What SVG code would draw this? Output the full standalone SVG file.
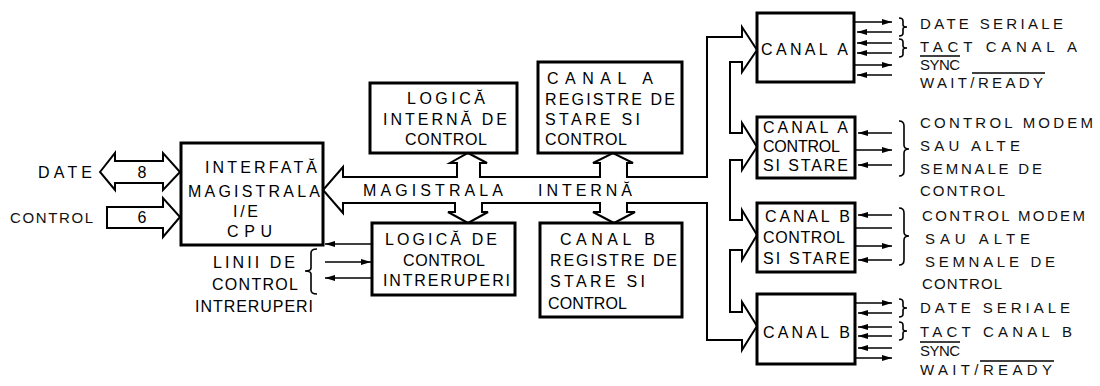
<svg xmlns="http://www.w3.org/2000/svg" width="1100" height="386" viewBox="0 0 1100 386">
<style>
.box{fill:#fff;stroke:#000;stroke-width:3}
.t{font-family:"Liberation Sans",Arial,sans-serif;font-size:16px;fill:#000}
.s{font-size:15px;fill:#111}
.ln{stroke:#000;stroke-width:1.3;fill:none}
.bus{fill:#fff;stroke:#000;stroke-width:2;stroke-linejoin:miter}
.br{stroke:#000;stroke-width:1.6;fill:none}
</style>
<defs>
<marker id="ah" viewBox="0 0 10 6" refX="10" refY="3" markerWidth="10" markerHeight="6" markerUnits="userSpaceOnUse" orient="auto"><path d="M0,0 L10,3 L0,6 z" fill="#000"/></marker>
</defs>
<rect width="1100" height="386" fill="#fff"/>
<g id="connectors">
<path class="bus" d="M100,172 L115,153 L115,161 L163,161 L163,153 L180,172 L163,190 L163,183 L115,183 L115,190 Z"/>
<path class="bus" d="M107,207 L163,207 L163,198 L180,217 L163,237 L163,228 L107,228 Z"/>
<path class="bus" d="M343,213 L323,190 L343,167 L343,177 L457,177 L457,163 L450,163 L468,153 L487,163 L480,163 L480,177 L600,177 L600,163 L593,163 L613,153 L633,163 L627,163 L627,177 L707,177 L707,37 L742,37 L742,27 L757,50 L742,72 L742,62 L730,62 L730,133 L742,133 L742,123 L757,147 L742,170 L742,160 L730,160 L730,220 L742,220 L742,210 L757,235 L742,260 L742,250 L730,250 L730,312 L742,312 L742,302 L757,326 L742,350 L742,340 L707,340 L707,203 L627,203 L627,212 L635,212 L614,223 L593,212 L600,212 L600,203 L482,203 L482,212 L488,212 L468,223 L448,212 L455,212 L455,203 L343,203 Z"/>
<line class="ln" x1="372" y1="244" x2="325" y2="244" marker-end="url(#ah)"/>
<line class="ln" x1="325" y1="262" x2="371" y2="262" marker-end="url(#ah)"/>
<line class="ln" x1="372" y1="278" x2="325" y2="278" marker-end="url(#ah)"/>
<line class="ln" x1="855" y1="22" x2="892" y2="22" marker-end="url(#ah)"/>
<line class="ln" x1="892" y1="32" x2="857" y2="32" marker-end="url(#ah)"/>
<line class="ln" x1="892" y1="43" x2="857" y2="43" marker-end="url(#ah)"/>
<line class="ln" x1="892" y1="53" x2="857" y2="53" marker-end="url(#ah)"/>
<line class="ln" x1="855" y1="65" x2="892" y2="65" marker-end="url(#ah)"/>
<line class="ln" x1="892" y1="75" x2="857" y2="75" marker-end="url(#ah)"/>
<line class="ln" x1="892" y1="133" x2="858" y2="133" marker-end="url(#ah)"/>
<line class="ln" x1="856" y1="150" x2="892" y2="150" marker-end="url(#ah)"/>
<line class="ln" x1="892" y1="165" x2="858" y2="165" marker-end="url(#ah)"/>
<line class="ln" x1="892" y1="215" x2="858" y2="215" marker-end="url(#ah)"/>
<line class="ln" x1="856" y1="228" x2="892" y2="228"/>
<line class="ln" x1="856" y1="246" x2="892" y2="246" marker-end="url(#ah)"/>
<line class="ln" x1="892" y1="260" x2="858" y2="260" marker-end="url(#ah)"/>
<line class="ln" x1="856" y1="303" x2="892" y2="303" marker-end="url(#ah)"/>
<line class="ln" x1="892" y1="313" x2="858" y2="313" marker-end="url(#ah)"/>
<line class="ln" x1="892" y1="327" x2="858" y2="327" marker-end="url(#ah)"/>
<line class="ln" x1="892" y1="336" x2="858" y2="336" marker-end="url(#ah)"/>
<line class="ln" x1="892" y1="348" x2="858" y2="348" marker-end="url(#ah)"/>
<line class="ln" x1="856" y1="358" x2="892" y2="358" marker-end="url(#ah)"/>
</g>
<g id="ext-date"><text class="t" x="38" y="178" textLength="54" lengthAdjust="spacing">DATE</text><text class="t" x="142" y="178" text-anchor="middle">8</text></g>
<g id="ext-control"><text class="t s" x="10" y="223" textLength="83" lengthAdjust="spacing">CONTROL</text><text class="t" x="142" y="223" text-anchor="middle">6</text></g>
<g id="cpu">
<rect class="box" x="181" y="143" width="142" height="102"/>
<text class="t" x="205" y="173" textLength="112" lengthAdjust="spacing">INTERFATĂ</text>
<text class="t" x="188" y="197" textLength="132" lengthAdjust="spacing">MAGISTRALA</text>
<text class="t" x="233" y="217" textLength="25" lengthAdjust="spacing">I/E</text>
<text class="t" x="227" y="237" textLength="45" lengthAdjust="spacing">CPU</text>
</g>
<g id="bus-label">
<text class="t" x="363" y="196" textLength="140" lengthAdjust="spacing">MAGISTRALA</text>
<text class="t" x="538" y="196" textLength="94" lengthAdjust="spacing">INTERNĂ</text>
</g>
<g id="linii">
<text class="t" x="213" y="268" textLength="82" lengthAdjust="spacing">LINII DE</text>
<text class="t" x="212" y="290" textLength="86" lengthAdjust="spacing">CONTROL</text>
<text class="t" x="195" y="312" textLength="118" lengthAdjust="spacing">INTRERUPERI</text>
<path class="br" d="M317,249 Q311,249 311,253 L311,268 Q311,271 305,271 Q311,271 311,274 L311,290 Q311,294 317,294"/>
</g>
<g id="logica-interna">
<rect class="box" x="370" y="83" width="147" height="70"/>
<text class="t" x="407" y="104" textLength="78" lengthAdjust="spacing">LOGICĂ</text>
<text class="t" x="383" y="125" textLength="124" lengthAdjust="spacing">INTERNĂ DE</text>
<text class="t" x="405" y="145" textLength="82" lengthAdjust="spacing">CONTROL</text>
</g>
<g id="canal-a-registre">
<rect class="box" x="538" y="62" width="144" height="91"/>
<text class="t" x="547" y="84" textLength="106" lengthAdjust="spacing">CANAL A</text>
<text class="t" x="545" y="105" textLength="130" lengthAdjust="spacing">REGISTRE DE</text>
<text class="t" x="545" y="125" textLength="95" lengthAdjust="spacing">STARE SI</text>
<text class="t" x="545" y="145" textLength="82" lengthAdjust="spacing">CONTROL</text>
</g>
<g id="logica-intreruperi">
<rect class="box" x="372" y="223" width="143" height="72"/>
<text class="t" x="385" y="245" textLength="112" lengthAdjust="spacing">LOGICĂ DE</text>
<text class="t" x="403" y="266" textLength="82" lengthAdjust="spacing">CONTROL</text>
<text class="t" x="383" y="286" textLength="127" lengthAdjust="spacing">INTRERUPERI</text>
</g>
<g id="canal-b-registre">
<rect class="box" x="540" y="223" width="142" height="94"/>
<text class="t" x="560" y="245" textLength="95" lengthAdjust="spacing">CANAL B</text>
<text class="t" x="550" y="266" textLength="127" lengthAdjust="spacing">REGISTRE DE</text>
<text class="t" x="550" y="287" textLength="95" lengthAdjust="spacing">STARE SI</text>
<text class="t" x="548" y="309" textLength="79" lengthAdjust="spacing">CONTROL</text>
</g>
<g id="canal-a">
<rect class="box" x="757" y="13" width="97" height="69"/>
<text class="t" x="761" y="55" textLength="87" lengthAdjust="spacing">CANAL A</text>
</g>
<g id="canal-a-control">
<rect class="box" x="757" y="117" width="98" height="61"/>
<text class="t" x="763" y="133" textLength="85" lengthAdjust="spacing">CANAL A</text>
<text class="t" x="763" y="152" textLength="77" lengthAdjust="spacing">CONTROL</text>
<text class="t" x="763" y="171" textLength="85" lengthAdjust="spacing">SI STARE</text>
</g>
<g id="canal-b-control">
<rect class="box" x="757" y="203" width="98" height="69"/>
<text class="t" x="765" y="222" textLength="85" lengthAdjust="spacing">CANAL B</text>
<text class="t" x="763" y="243" textLength="82" lengthAdjust="spacing">CONTROL</text>
<text class="t" x="763" y="264" textLength="87" lengthAdjust="spacing">SI STARE</text>
</g>
<g id="canal-b">
<rect class="box" x="757" y="294" width="98" height="70"/>
<text class="t" x="763" y="338" textLength="87" lengthAdjust="spacing">CANAL B</text>
</g>
<g id="labels-canal-a">
<path class="br" d="M899,18 Q903,18 903,21 L903,25 Q903,27 907,27 Q903,27 903,29 L903,33 Q903,36 899,36"/>
<path class="br" d="M899,39 Q903,39 903,42 L903,46 Q903,48 907,48 Q903,48 903,50 L903,54 Q903,57 899,57"/>
<text class="t s" x="920" y="29" textLength="143" lengthAdjust="spacing">DATE SERIALE</text>
<text class="t s" x="920" y="52" textLength="157" lengthAdjust="spacing">TACT CANAL A</text>
<text class="t s" x="920" y="70" textLength="40" lengthAdjust="spacing">SYNC</text>
<line class="ln" x1="920" y1="56" x2="960" y2="56"/>
<text class="t s" x="920" y="88" textLength="123" lengthAdjust="spacing">WAIT/READY</text>
<line class="ln" x1="972" y1="73" x2="1045" y2="73"/>
</g>
<g id="labels-canal-a-control">
<path class="br" d="M899,121 Q904,121 904,126 L904,145 Q904,149 909,149 Q904,149 904,153 L904,171 Q904,176 899,176"/>
<text class="t s" x="920" y="128" textLength="173" lengthAdjust="spacing">CONTROL MODEM</text>
<text class="t s" x="920" y="151" textLength="100" lengthAdjust="spacing">SAU ALTE</text>
<text class="t s" x="920" y="174" textLength="122" lengthAdjust="spacing">SEMNALE DE</text>
<text class="t s" x="920" y="196" textLength="85" lengthAdjust="spacing">CONTROL</text>
</g>
<g id="labels-canal-b-control">
<path class="br" d="M899,208 Q904,208 904,213 L904,232 Q904,236 909,236 Q904,236 904,240 L904,260 Q904,265 899,265"/>
<text class="t s" x="922" y="221" textLength="163" lengthAdjust="spacing">CONTROL MODEM</text>
<text class="t s" x="925" y="244" textLength="105" lengthAdjust="spacing">SAU ALTE</text>
<text class="t s" x="925" y="267" textLength="130" lengthAdjust="spacing">SEMNALE DE</text>
<text class="t s" x="922" y="289" textLength="80" lengthAdjust="spacing">CONTROL</text>
</g>
<g id="labels-canal-b">
<path class="br" d="M899,299 Q903,299 903,302 L903,306 Q903,308 907,308 Q903,308 903,310 L903,314 Q903,317 899,317"/>
<path class="br" d="M899,322 Q903,322 903,325 L903,329 Q903,331 907,331 Q903,331 903,333 L903,337 Q903,340 899,340"/>
<text class="t s" x="920" y="313" textLength="150" lengthAdjust="spacing">DATE SERIALE</text>
<text class="t s" x="920" y="337" textLength="152" lengthAdjust="spacing">TACT CANAL B</text>
<text class="t s" x="920" y="356" textLength="40" lengthAdjust="spacing">SYNC</text>
<line class="ln" x1="920" y1="342" x2="960" y2="342"/>
<text class="t s" x="920" y="375" textLength="132" lengthAdjust="spacing">WAIT/READY</text>
<line class="ln" x1="980" y1="361" x2="1054" y2="361"/>
</g>
</svg>
